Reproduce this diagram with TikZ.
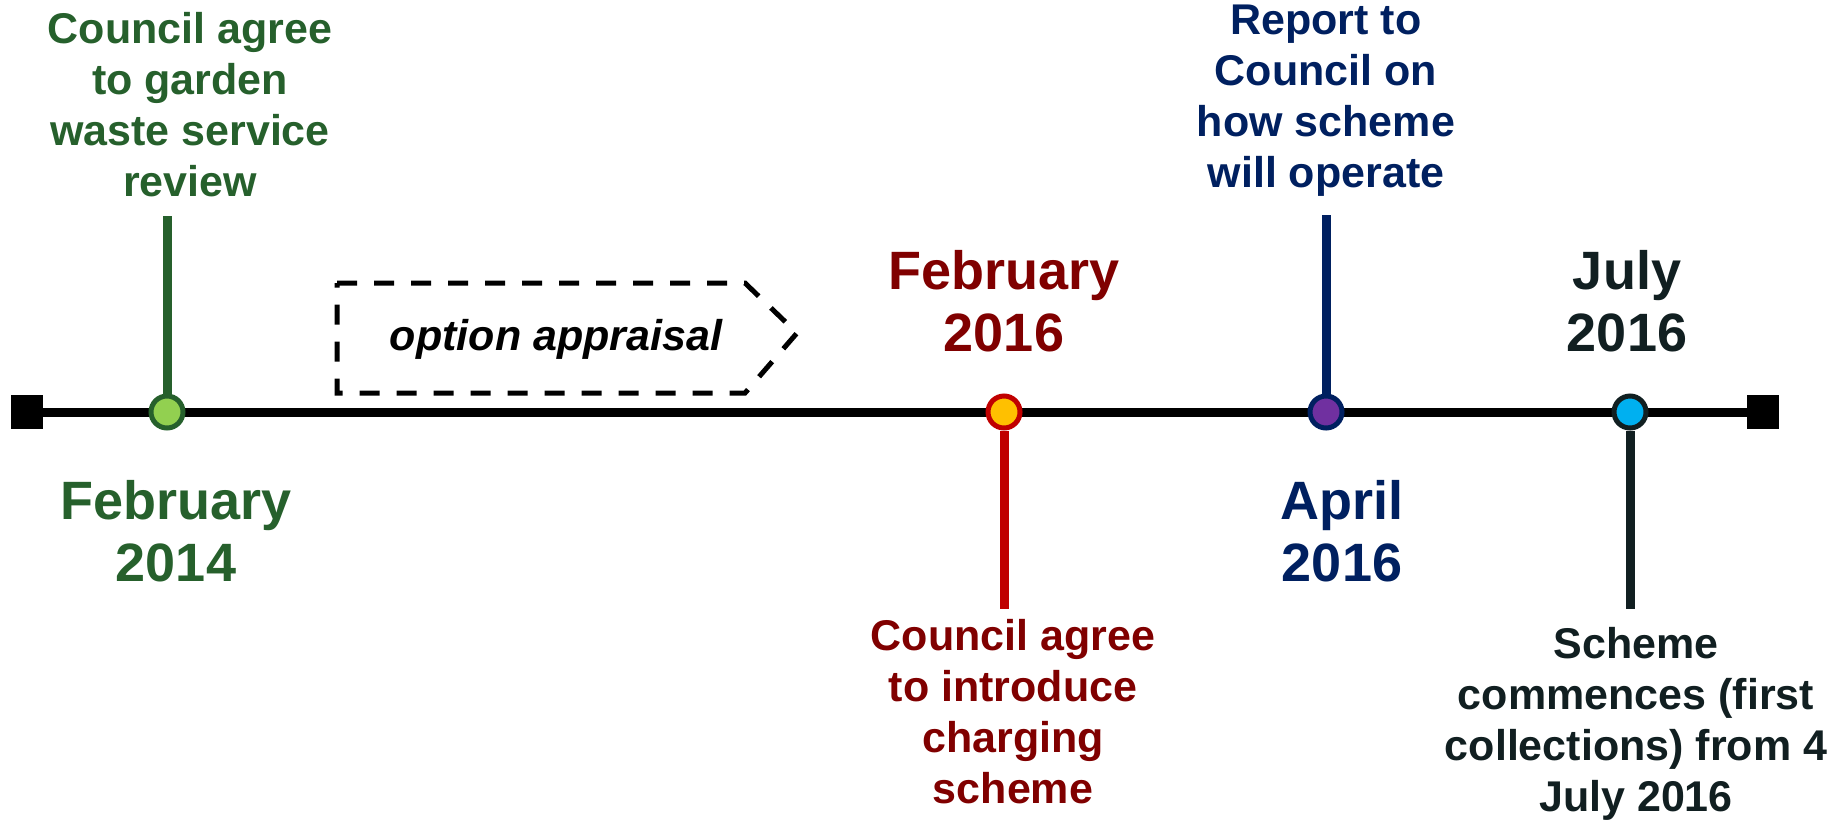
\documentclass[tikz,border=0pt]{standalone}
\usepackage{fontspec}
\setmainfont{Liberation Sans}
\definecolor{tgreen}{RGB}{38,96,44}
\definecolor{lgreen}{RGB}{146,208,80}
\definecolor{tmaroon}{RGB}{128,0,0}
\definecolor{tred}{RGB}{192,0,0}
\definecolor{tyellow}{RGB}{255,192,0}
\definecolor{tnavy}{RGB}{0,32,96}
\definecolor{tpurple}{RGB}{112,48,160}
\definecolor{tdark}{RGB}{17,31,33}
\definecolor{tcyan}{RGB}{0,176,240}
\begin{document}
\begin{tikzpicture}[x=1pt,y=-1pt,
  evtext/.style={align=center,font=\fontsize{43}{51}\selectfont\bfseries,inner sep=0pt},
  datetext/.style={align=center,font=\fontsize{54}{62}\selectfont\bfseries,inner sep=0pt},
  dot/.style={circle,minimum size=32pt,inner sep=0pt,line width=5pt},
  endsq/.style={rectangle,fill=black,minimum width=32pt,minimum height=34pt,inner sep=0pt},
  stem/.style={line width=9pt}]
\useasboundingbox (0,0) rectangle (1835,820);
% main line
\node[endsq] (L) at (27,412) {};
\node[endsq] (R) at (1763,412) {};
\draw[line width=9pt] (L) -- (R);
% dashed arrow box
\draw[line width=5pt,dash pattern=on 20pt off 17pt,line join=miter]
  (337,283) -- (745,283) -- (797,333) -- (745,393) -- (337,393) -- cycle;
\node[font=\fontsize{43}{50}\selectfont\bfseries\itshape,inner sep=0pt] (opt) at (556,339) {option appraisal};
% event 1
\coordinate (g1) at (167,216);
\node[dot,draw=tgreen,fill=lgreen] (d1) at (167,412) {};
\draw[stem,tgreen] (g1) -- (d1.north);
\node[evtext,text=tgreen] (t1) at (190,105) {Council agree\\to garden\\waste service\\review};
\node[datetext,text=tgreen] (dt1) at (176,531) {February\\2014};
% event 2
\coordinate (g2) at (1004,609);
\node[dot,draw=tred,fill=tyellow] (d2) at (1004,412) {};
\draw[stem,tred] (d2.south) -- (g2);
\node[evtext,text=tmaroon] (t2) at (1013,712) {Council agree\\to introduce\\charging\\scheme};
\node[datetext,text=tmaroon] (dt2) at (1004,301) {February\\2016};
% event 3
\coordinate (g3) at (1326,215);
\node[dot,draw=tnavy,fill=tpurple] (d3) at (1326,412) {};
\draw[stem,tnavy] (g3) -- (d3.north);
\node[evtext,text=tnavy] (t3) at (1326,101) {Report to\\Council on\\how scheme\\will operate};
\node[datetext,text=tnavy] (dt3) at (1342,531) {April\\2016};
% event 4
\coordinate (g4) at (1630,609);
\node[dot,draw=tdark,fill=tcyan] (d4) at (1630,412) {};
\draw[stem,tdark] (d4.south) -- (g4);
\node[evtext,text=tdark] (t4) at (1636,724) {Scheme\\commences (first\\collections) from 4\\July 2016};
\node[datetext,text=tdark] (dt4) at (1627,301) {July\\2016};
\end{tikzpicture}
\end{document}
